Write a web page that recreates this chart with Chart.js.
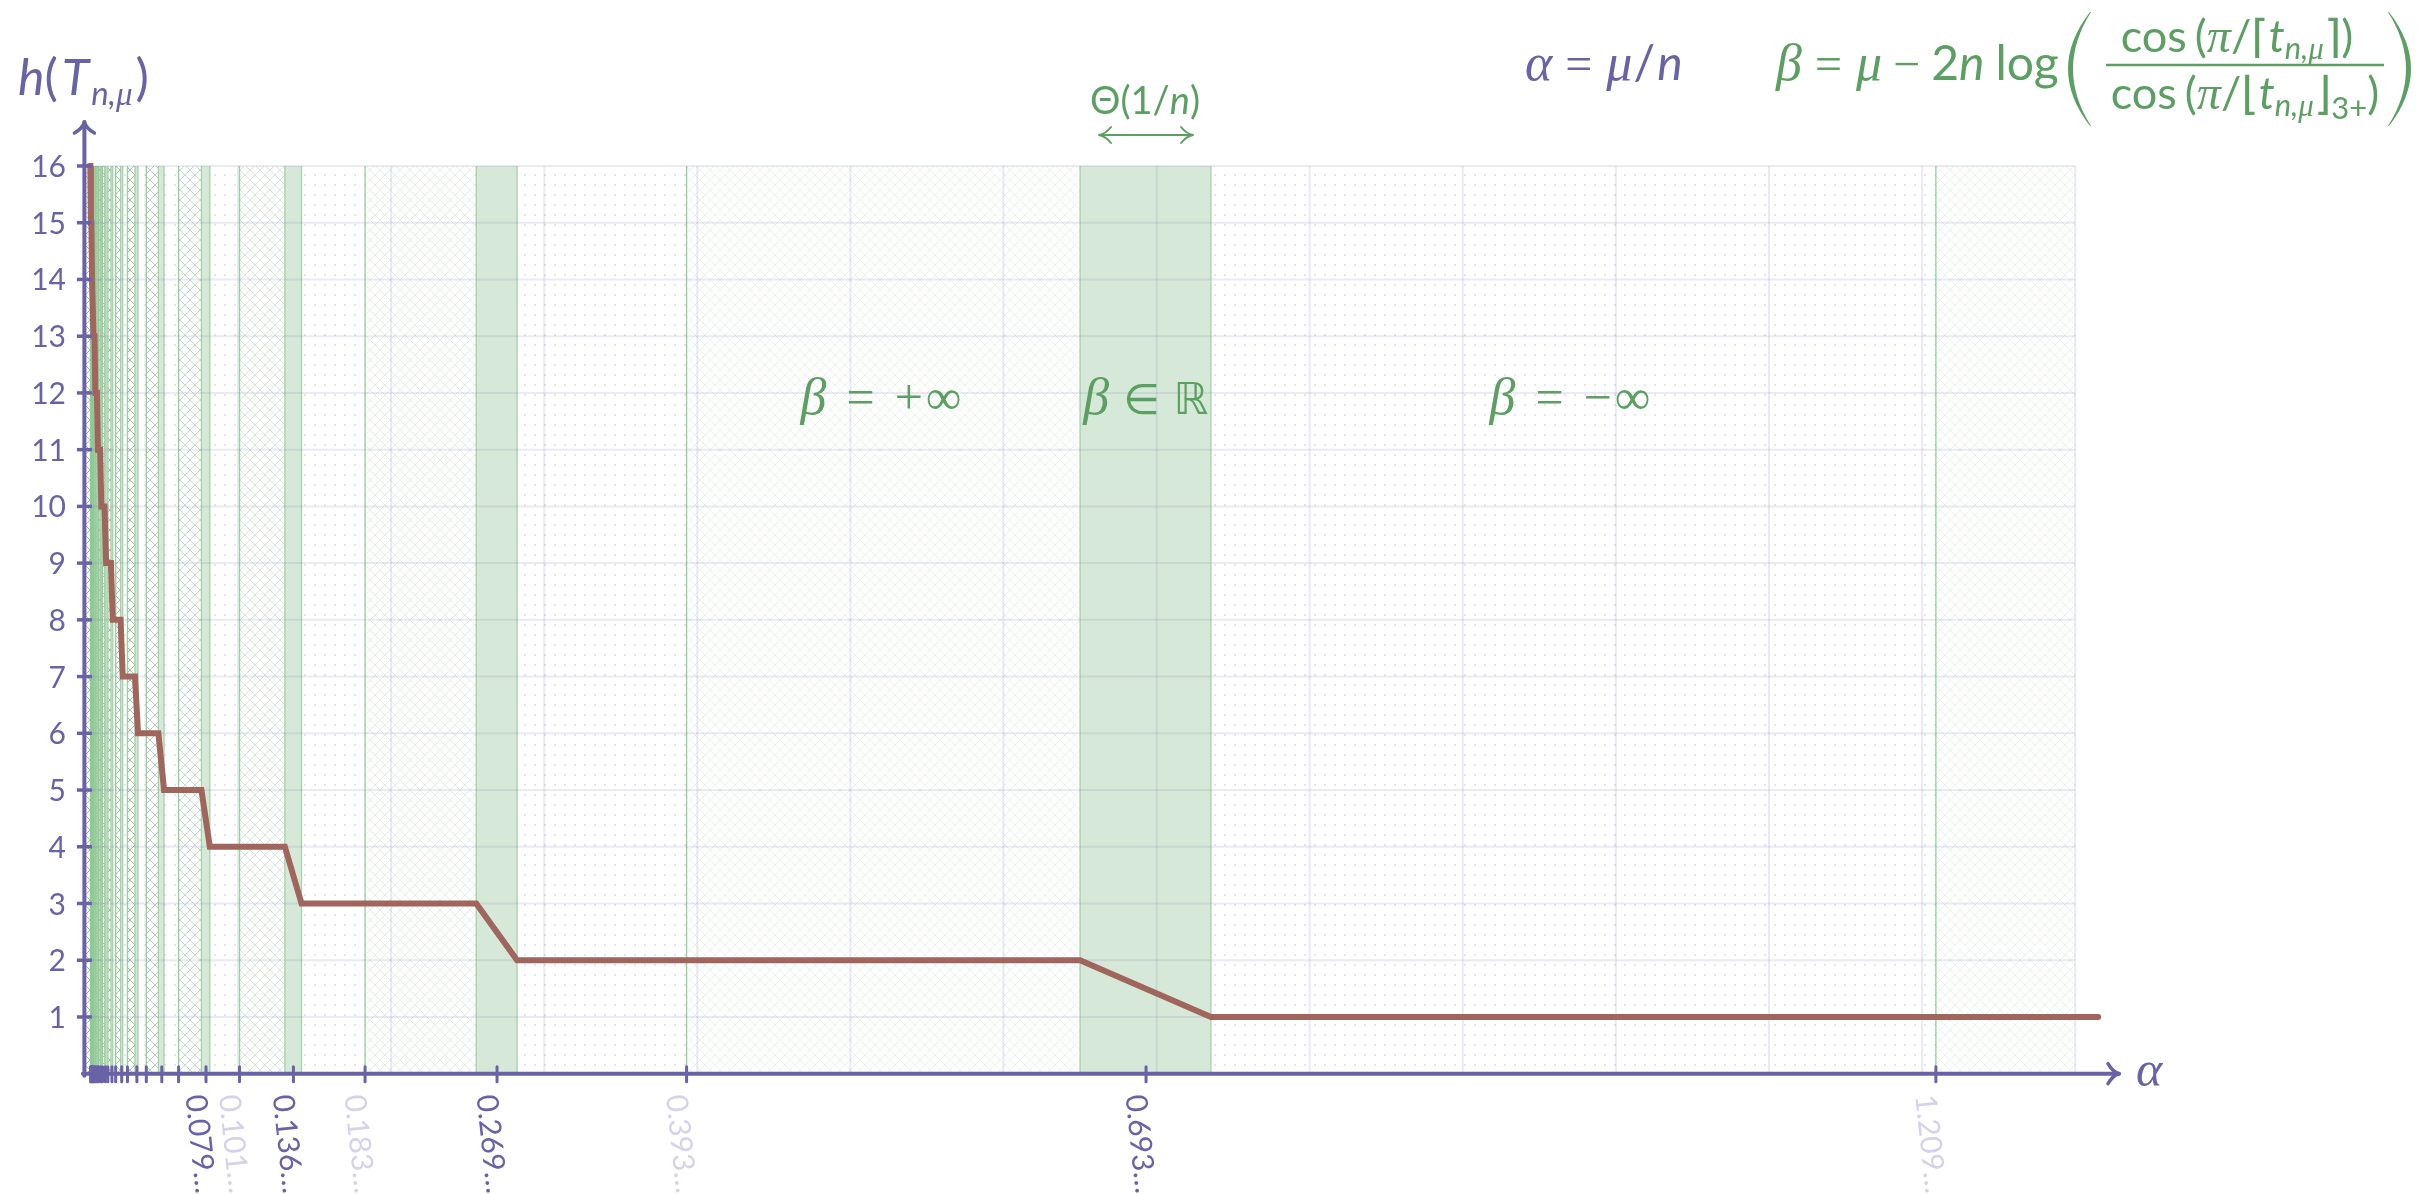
<!DOCTYPE html>
<html><head><meta charset="utf-8">
<script src="https://cdn.jsdelivr.net/npm/chart.js@4.4.1/dist/chart.umd.min.js"></script>
<style>html,body{margin:0;padding:0;background:#fff;overflow:hidden}canvas{display:block}</style>
</head><body>
<canvas id="c" width="2427" height="1194" style="width:2427px;height:1194px"></canvas>
<script>
// ---------------- data ----------------
const hLevels    = [16,15,14,13,12,11,10,9,8,7,6,5,4,3,2];
const bandStart  = [0.00355,0.00425,0.00515,0.00630,0.00785,0.00995,0.01285,0.0170,0.0233,0.0327,0.0480,0.0761,0.1306,0.2556,0.6500];
const bandEnd    = [0.00390,0.00465,0.00560,0.00685,0.00850,0.01075,0.01385,0.0182,0.0247,0.0347,0.0517,0.0816,0.1415,0.2823,0.7355];
const bandCenter = [0.00373,0.00446,0.00539,0.00660,0.00819,0.01036,0.01336,0.01766,0.02404,0.03394,0.05022,0.0791,0.1362,0.2692,0.6931];
const lineAlpha  = [0.0040,0.0048,0.0058,0.0072,0.0090,0.0115,0.0150,0.0201,0.0278,0.0401,0.0612,0.101,0.183,0.393,1.209];
const curveStart = {x:0.0030, y:16};
const curveEnd   = {x:1.315, y:1};
const tickLabelValues = [0.0791,0.101,0.1362,0.183,0.2692,0.393,0.6931,1.209];
const tickLabels      = ['0.079…','0.101…','0.136…','0.183…','0.269…','0.393…','0.693…','1.209…'];
const tickLabelStrong = [true,false,true,false,true,false,true,false];
const yTickValues = [1,2,3,4,5,6,7,8,9,10,11,12,13,14,15,16];
const xGridValues = [0.1,0.2,0.3,0.4,0.5,0.6,0.7,0.8,0.9,1.0,1.1,1.2,1.3];
const GRID_X_MAX = 1.3;
const AX_MAX = 1.3286;

// ---------------- styles ----------------
const PURPLE = '#6962a7';
const PURPLE_FAINT = '#d5d3e9';
const GREEN = '#5c9f62';
const RED = '#a0665d';
const SANS = "Lato, 'DejaVu Sans', sans-serif";
const SERIF = "'Liberation Serif', 'DejaVu Serif', serif";
const MATHSYM = "'DejaVu Sans', sans-serif";

const PAD_L = 84.9, PAD_T = 166, PAD_B = 1194 - 1073.7;
const PAD_R = 2427 - (PAD_L + AX_MAX * 1531);

function makeTile(draw){
  const c = document.createElement('canvas'); c.width = 10; c.height = 10;
  const g = c.getContext('2d'); draw(g); return c;
}
const hatchTile = makeTile(g => {
  g.strokeStyle = 'rgb(120,175,128)'; g.lineWidth = 1;
  g.beginPath(); g.moveTo(0,0); g.lineTo(10,10); g.moveTo(10,0); g.lineTo(0,10); g.stroke();
});
const dotTile = makeTile(g => {
  g.fillStyle = 'rgba(150,160,175,0.3)';
  g.beginPath(); g.arc(5,5,1.1,0,Math.PI*2); g.fill();
});

function drawRuns(ctx, x, y, parts, align){
  let w = 0;
  const ws = parts.map(p => { ctx.font = p.f; const pw = ctx.measureText(p.t).width + (p.sp||0) + (p.pre||0); w += pw; return pw; });
  let cx = align === 'center' ? x - w/2 : (align === 'right' ? x - w : x);
  ctx.textAlign = 'left'; ctx.textBaseline = 'alphabetic';
  parts.forEach((p,i) => { ctx.font = p.f; ctx.fillText(p.t, cx + (p.pre||0), y + (p.dy||0)); cx += ws[i]; });
  return w;
}
function measureRuns(ctx, parts){
  let w = 0; parts.forEach(p => { ctx.font = p.f; w += ctx.measureText(p.t).width + (p.sp||0) + (p.pre||0); }); return w;
}
function arrowHead(ctx, tx, ty, dx, dy, back, half){
  const nx = -dy, ny = dx;
  ctx.beginPath();
  for (const s of [-1,1]){
    ctx.moveTo(tx, ty);
    ctx.quadraticCurveTo(tx - dx*back*0.55 + nx*s*half*0.15, ty - dy*back*0.55 + ny*s*half*0.15,
                         tx - dx*back + nx*s*half, ty - dy*back + ny*s*half);
  }
  ctx.stroke();
}
function bigParen(ctx, x, yTop, yBot, bulge, dir, thick){
  const mid = (yTop + yBot)/2;
  ctx.beginPath();
  ctx.moveTo(x, yTop);
  ctx.quadraticCurveTo(x + dir*bulge*2, mid, x, yBot);
  ctx.lineTo(x - dir*1, yBot);
  ctx.quadraticCurveTo(x + dir*(bulge-thick)*2, mid, x - dir*1, yTop);
  ctx.closePath();
  ctx.fill();
}

const bgPlugin = {
  id:'bg',
  beforeDraw(chart){
    const c = chart.ctx; c.save(); c.fillStyle = '#fff'; c.fillRect(0,0,chart.width,chart.height); c.restore();
  },
  beforeDatasetsDraw(chart){
    const ctx = chart.ctx, xs = chart.scales.x, ys = chart.scales.y;
    const px = v => xs.getPixelForValue(v), py = v => ys.getPixelForValue(v);
    const top = py(16), bot = py(0);
    ctx.save();
    const hatch = ctx.createPattern(hatchTile, 'repeat');
    const dots = ctx.createPattern(dotTile, 'repeat');
    const hatchAlpha = h => h <= 2 ? 0.15 : h === 3 ? 0.2 : h === 4 ? 0.3 : h === 5 ? 0.42 : h === 6 ? 0.55 : 0.7;
    for (let i = 0; i < hLevels.length; i++){
      const a0 = i === 0 ? 0 : lineAlpha[i-1];
      ctx.globalAlpha = hatchAlpha(hLevels[i]);
      ctx.fillStyle = hatch;
      ctx.fillRect(px(a0), top, px(bandStart[i]) - px(a0), bot - top);
      ctx.globalAlpha = 1;
      ctx.fillStyle = dots;
      ctx.fillRect(px(bandEnd[i]), top, px(lineAlpha[i]) - px(bandEnd[i]), bot - top);
    }
    ctx.globalAlpha = 0.15; ctx.fillStyle = hatch;
    ctx.fillRect(px(lineAlpha[lineAlpha.length-1]), top, px(GRID_X_MAX) - px(lineAlpha[lineAlpha.length-1]), bot - top);
    ctx.globalAlpha = 1;
    // bands
    for (let i = 0; i < hLevels.length; i++){
      const x0 = px(bandStart[i]), x1 = px(bandEnd[i]);
      ctx.fillStyle = 'rgba(200,225,203,0.75)';
      ctx.fillRect(x0, top, x1 - x0, bot - top);
      ctx.strokeStyle = 'rgba(150,200,155,0.8)'; ctx.lineWidth = 1.3;
      ctx.beginPath(); ctx.moveTo(x0, top); ctx.lineTo(x0, bot); ctx.moveTo(x1, top); ctx.lineTo(x1, bot); ctx.stroke();
    }
    // faint threshold lines
    ctx.strokeStyle = 'rgba(140,200,145,0.85)'; ctx.lineWidth = 1.4;
    lineAlpha.forEach(a => { ctx.beginPath(); ctx.moveTo(px(a), top); ctx.lineTo(px(a), bot); ctx.stroke(); });
    // grid
    ctx.strokeStyle = 'rgba(120,115,175,0.15)'; ctx.lineWidth = 2;
    xGridValues.forEach(v => { ctx.beginPath(); ctx.moveTo(px(v), top); ctx.lineTo(px(v), bot); ctx.stroke(); });
    yTickValues.forEach(v => { ctx.beginPath(); ctx.moveTo(px(0), py(v)); ctx.lineTo(px(GRID_X_MAX), py(v)); ctx.stroke(); });
    ctx.restore();
  },
  afterDatasetsDraw(chart){
    const ctx = chart.ctx, xs = chart.scales.x, ys = chart.scales.y;
    const px = v => xs.getPixelForValue(v), py = v => ys.getPixelForValue(v);
    const x0 = px(0), y0 = py(0);
    ctx.save();
    ctx.strokeStyle = PURPLE; ctx.fillStyle = PURPLE; ctx.lineCap = 'round';
    // axes
    ctx.lineWidth = 4;
    ctx.beginPath(); ctx.moveTo(x0 - 0.5, y0 + 2); ctx.lineTo(x0 - 0.5, 122); ctx.stroke();
    ctx.beginPath(); ctx.moveTo(x0 - 2, y0); ctx.lineTo(px(AX_MAX), y0); ctx.stroke();
    ctx.lineWidth = 3.5;
    arrowHead(ctx, x0 - 0.5, 122, 0, -1, 11, 10);
    arrowHead(ctx, px(AX_MAX), y0, 1, 0, 11, 10);
    // y ticks
    ctx.lineWidth = 3.5; ctx.lineCap = 'butt';
    yTickValues.forEach(v => { ctx.beginPath(); ctx.moveTo(x0 - 8, py(v)); ctx.lineTo(x0 + 7, py(v)); ctx.stroke(); });
    ctx.font = `30px ${SANS}`; ctx.textAlign = 'right'; ctx.textBaseline = 'alphabetic';
    yTickValues.forEach(v => ctx.fillText(String(v), 66, py(v) + 11));
    // x ticks
    ctx.lineWidth = 3; ctx.lineCap = 'round';
    bandCenter.concat(lineAlpha).forEach(v => { ctx.beginPath(); ctx.moveTo(px(v), y0 - 7); ctx.lineTo(px(v), y0 + 8); ctx.stroke(); });
    // x tick labels
    ctx.font = `30px ${SANS}`; ctx.textAlign = 'left'; ctx.textBaseline = 'middle';
    tickLabelValues.forEach((v,i) => {
      ctx.save();
      ctx.translate(px(v) - 11, y0 + 21);
      ctx.rotate(84 * Math.PI / 180);
      ctx.fillStyle = tickLabelStrong[i] ? PURPLE : PURPLE_FAINT;
      ctx.fillText(tickLabels[i], 0, 0);
      ctx.restore();
    });
    // axis labels
    ctx.fillStyle = PURPLE;
    drawRuns(ctx, 2136, y0 + 12, [{t:'α', f:`italic 50px ${SERIF}`}], 'left');
    drawRuns(ctx, 18, 95, [
      {t:'h', f:`italic 50px ${SANS}`},
      {t:'(', f:`50px ${SANS}`, sp:4},
      {t:'T', f:`italic 50px ${SANS}`, sp:2},
      {t:'n,', f:`italic 33px ${SANS}`, dy:10},
      {t:'μ', f:`italic 33px ${SERIF}`, dy:10, sp:3},
      {t:')', f:`50px ${SANS}`}
    ], 'left');
    // formula: alpha
    drawRuns(ctx, 1525, 80, [
      {t:'α', f:`italic 52px ${SERIF}`, sp:13},
      {t:'=', f:`48px ${SERIF}`, sp:14},
      {t:'μ', f:`italic 52px ${SERIF}`, sp:1},
      {t:'/', f:`48px ${SANS}`, sp:2},
      {t:'n', f:`italic 48px ${SANS}`}
    ], 'left');
    // formula: beta
    ctx.fillStyle = GREEN;
    drawRuns(ctx, 1776, 80, [
      {t:'β', f:`italic 52px ${SERIF}`, sp:13},
      {t:'=', f:`48px ${SERIF}`, sp:14},
      {t:'μ', f:`italic 52px ${SERIF}`, sp:11},
      {t:'−', f:`48px ${SERIF}`, sp:11},
      {t:'2', f:`48px ${SANS}`},
      {t:'n', f:`italic 48px ${SANS}`, sp:11},
      {t:'log', f:`48px ${SANS}`}
    ], 'left');
    const fs = 45, fsub = 31;
    const num = [
      {t:'cos', f:`${fs}px ${SANS}`, sp:8},
      {t:'(', f:`${fs}px ${SANS}`},
      {t:'π', f:`italic ${fs+3}px ${SERIF}`},
      {t:'/', f:`${fs}px ${SANS}`},
      {t:'⌈', f:`${fs}px ${MATHSYM}`},
      {t:'t', f:`italic ${fs}px ${SANS}`},
      {t:'n,', f:`italic ${fsub}px ${SANS}`, dy:7},
      {t:'μ', f:`italic ${fsub}px ${SERIF}`, dy:7},
      {t:'⌉', f:`${fs}px ${MATHSYM}`},
      {t:')', f:`${fs}px ${SANS}`}
    ];
    const den = [
      {t:'cos', f:`${fs}px ${SANS}`, sp:8},
      {t:'(', f:`${fs}px ${SANS}`},
      {t:'π', f:`italic ${fs+3}px ${SERIF}`},
      {t:'/', f:`${fs}px ${SANS}`},
      {t:'⌊', f:`${fs}px ${MATHSYM}`},
      {t:'t', f:`italic ${fs}px ${SANS}`},
      {t:'n,', f:`italic ${fsub}px ${SANS}`, dy:7},
      {t:'μ', f:`italic ${fsub}px ${SERIF}`, dy:7},
      {t:'⌋', f:`${fs}px ${MATHSYM}`},
      {t:'3+', f:`${fsub}px ${SANS}`, dy:10},
      {t:')', f:`${fs}px ${SANS}`}
    ];
    const dw = measureRuns(ctx, den);
    const barL = 2106, barR = Math.max(2384, barL + dw + 6);
    const fcx = (barL + barR) / 2;
    drawRuns(ctx, fcx - 8, 52, num, 'center');
    drawRuns(ctx, fcx, 109, den, 'center');
    ctx.strokeStyle = GREEN; ctx.lineWidth = 2.5; ctx.lineCap = 'butt';
    ctx.beginPath(); ctx.moveTo(barL, 65); ctx.lineTo(barR, 65); ctx.stroke();
    bigParen(ctx, 2090, 12, 126, 22, -1, 4.5);
    bigParen(ctx, barR + 5, 12, 126, 22, 1, 4.5);
    // Theta(1/n) with double arrow
    const tc = px(bandCenter[bandCenter.length-1]);
    drawRuns(ctx, tc - 1, 114, [
      {t:'Θ(1/', f:`38px ${SANS}`},
      {t:'n', f:`italic 38px ${SANS}`},
      {t:')', f:`38px ${SANS}`}
    ], 'center');
    ctx.lineWidth = 2; ctx.lineCap = 'round';
    ctx.beginPath(); ctx.moveTo(tc - 46, 135); ctx.lineTo(tc + 46, 135); ctx.stroke();
    arrowHead(ctx, tc + 47, 135, 1, 0, 12, 8);
    arrowHead(ctx, tc - 47, 135, -1, 0, 12, 8);
    // region labels
    const ly = py(11.85) + 13;
    const beta = (x, rest) => drawRuns(ctx, x, ly, [{t:'β', f:`italic 52px ${SERIF}`, sp:20}].concat(rest), 'center');
    beta(px(0.52), [{t:'=', f:`50px ${SERIF}`, sp:20}, {t:'+', f:`50px ${SERIF}`, sp:3}, {t:'∞', f:`50px ${SERIF}`}]);
    drawRuns(ctx, px(0.6931), ly, [{t:'β', f:`italic 52px ${SERIF}`, sp:14}, {t:'∈', f:`42px ${MATHSYM}`, sp:14}, {t:'ℝ', f:`44px ${MATHSYM}`}], 'center');
    beta(px(0.97), [{t:'=', f:`50px ${SERIF}`, sp:20}, {t:'−', f:`50px ${SERIF}`, sp:3}, {t:'∞', f:`50px ${SERIF}`}]);
    ctx.restore();
  }
};

const redData = [curveStart];
for (let i = 0; i < hLevels.length; i++){
  redData.push({x: bandStart[i], y: hLevels[i]});
  redData.push({x: bandEnd[i], y: hLevels[i] - 1});
}
redData.push(curveEnd);

new Chart(document.getElementById('c'), {
  type: 'line',
  data: { datasets: [{ data: redData, borderColor: RED, borderWidth: 6, pointRadius: 0, tension: 0,
    clip: false, fill: false, borderCapStyle: 'round', borderJoinStyle: 'miter' }] },
  options: {
    responsive: false, animation: false, devicePixelRatio: 1, events: [],
    layout: { padding: { left: PAD_L, right: PAD_R, top: PAD_T, bottom: PAD_B } },
    plugins: { legend: { display: false }, tooltip: { enabled: false } },
    scales: {
      x: { type: 'linear', min: 0, max: AX_MAX, display: false },
      y: { type: 'linear', min: 0, max: 16, display: false }
    }
  },
  plugins: [bgPlugin]
});
</script>
</body></html>
